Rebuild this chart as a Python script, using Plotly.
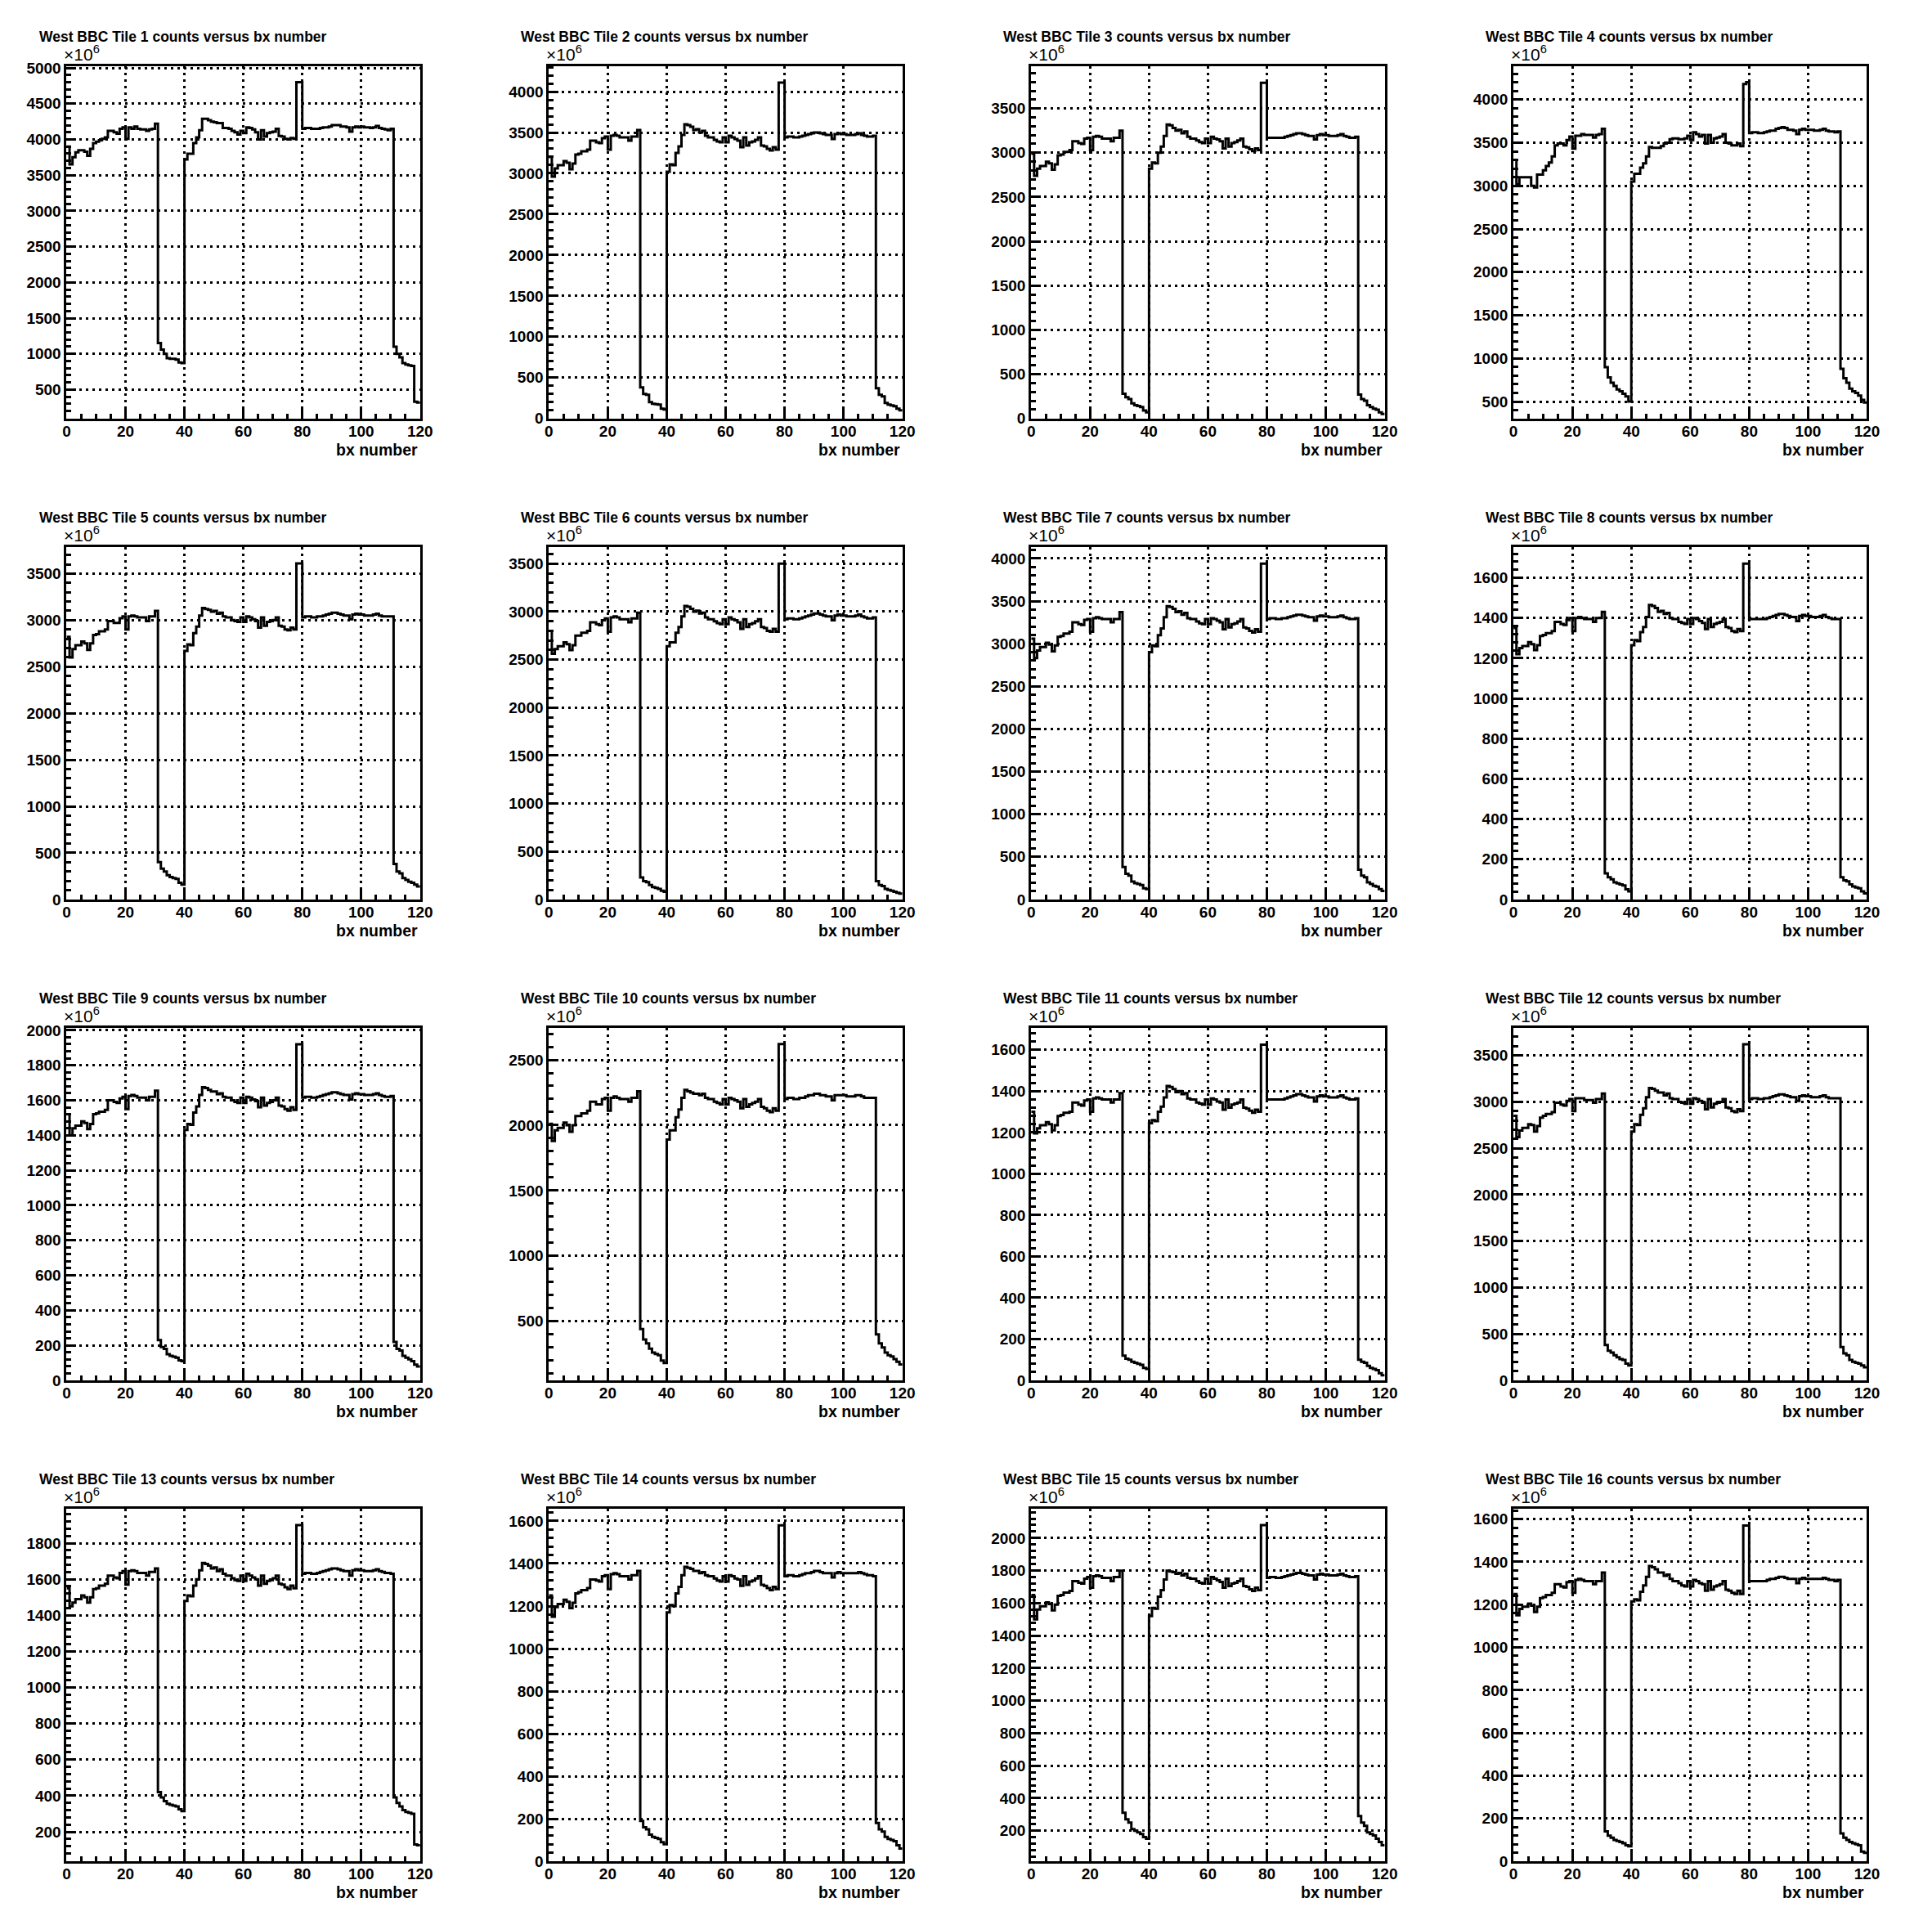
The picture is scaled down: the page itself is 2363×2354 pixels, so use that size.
import plotly.graph_objects as go

# ---------------- data (counts in units of 10^6, one value per bx bin) ----------------
BX_EDGES = list(range(121))          # bin edges 0..120 (120 bins of width 1)
X_TICKS = [0, 20, 40, 60, 80, 100, 120]

TILE_1 = ([3900, 3650, 3750, 3820, 3850, 3850, 3830, 3770, 3870, 3950, 3970, 3990, 4010, 4030, 4120, 4120,
           4100, 4080, 4150, 4170, 4010, 4170, 4150, 4180, 4150, 4140, 4140, 4120, 4140, 4150, 4220]
          + [1150, 1060, 1000, 940, 930, 930, 920, 880, 870]
          + [3720, 3800, 3800, 3950, 4030, 4130, 4290, 4290, 4270, 4250, 4240, 4230, 4230, 4160, 4160, 4150,
             4120, 4100, 4070, 4120, 4090, 4170, 4160, 4140, 4100, 4000, 4130, 4040, 4090, 4100, 4110, 4150,
             4050, 4040, 4010, 4000, 4020, 4010, 4800, 4800]
          + [4150, 4160, 4160, 4150, 4150, 4150, 4160, 4170, 4170, 4180, 4200, 4200, 4200, 4180, 4180, 4170,
             4110, 4170, 4180, 4170, 4180, 4170, 4170, 4160, 4170, 4190, 4160, 4150, 4140, 4130, 4150]
          + [1100, 1000, 950, 870, 850, 840, 830, 330, 320])

TILE_2 = ([3200, 2960, 3060, 3100, 3100, 3150, 3130, 3050, 3120, 3230, 3240, 3270, 3270, 3290, 3400, 3400,
           3380, 3370, 3430, 3450, 3290, 3460, 3470, 3460, 3440, 3440, 3440, 3400, 3450, 3450, 3530]
          + [380, 300, 290, 200, 180, 175, 170, 120, 110]
          + [3020, 3110, 3100, 3250, 3330, 3470, 3600, 3590, 3570, 3530, 3540, 3500, 3520, 3460, 3440, 3440,
             3410, 3390, 3380, 3440, 3380, 3460, 3440, 3420, 3400, 3320, 3440, 3340, 3380, 3390, 3410, 3440,
             3340, 3330, 3300, 3280, 3320, 3290, 4110, 4110]
          + [3440, 3450, 3450, 3440, 3440, 3450, 3460, 3470, 3480, 3490, 3500, 3500, 3490, 3480, 3470, 3470,
             3420, 3480, 3490, 3480, 3480, 3470, 3470, 3470, 3480, 3490, 3470, 3460, 3450, 3450, 3460]
          + [370, 290, 270, 190, 170, 160, 150, 120, 100])

TILE_3 = ([2990, 2740, 2820, 2850, 2850, 2900, 2880, 2810, 2870, 2970, 2980, 3010, 3010, 3030, 3130, 3130,
           3110, 3100, 3160, 3170, 3030, 3180, 3190, 3180, 3160, 3160, 3160, 3130, 3170, 3170, 3250]
          + [280, 240, 220, 170, 150, 140, 130, 90, 70]
          + [2820, 2890, 2880, 3000, 3070, 3190, 3320, 3310, 3280, 3250, 3260, 3220, 3240, 3180, 3160, 3160,
             3140, 3120, 3110, 3160, 3110, 3180, 3160, 3150, 3130, 3050, 3160, 3070, 3110, 3120, 3140, 3160,
             3070, 3060, 3040, 3020, 3050, 3030, 3790, 3790]
          + [3170, 3170, 3170, 3170, 3170, 3170, 3180, 3190, 3200, 3210, 3220, 3220, 3210, 3200, 3190, 3190,
             3150, 3200, 3210, 3200, 3200, 3190, 3190, 3190, 3200, 3210, 3190, 3180, 3170, 3170, 3180]
          + [270, 220, 200, 150, 130, 110, 100, 70, 50])

TILE_4 = ([3300, 3020, 3100, 3100, 3100, 3100, 3000, 2980, 3130, 3130, 3180, 3230, 3270, 3340, 3470, 3490,
           3490, 3470, 3530, 3570, 3430, 3580, 3580, 3600, 3590, 3590, 3590, 3560, 3590, 3600, 3660]
          + [900, 780, 720, 680, 640, 620, 590, 560, 500]
          + [3050, 3140, 3140, 3210, 3260, 3340, 3450, 3440, 3440, 3440, 3460, 3490, 3500, 3540, 3550, 3550,
             3540, 3540, 3550, 3580, 3530, 3620, 3600, 3570, 3590, 3490, 3590, 3500, 3550, 3560, 3570, 3600,
             3500, 3490, 3470, 3470, 3490, 3460, 4180, 4200]
          + [3610, 3620, 3620, 3610, 3610, 3620, 3630, 3640, 3640, 3660, 3670, 3680, 3670, 3650, 3650, 3640,
             3600, 3650, 3660, 3650, 3650, 3650, 3640, 3640, 3650, 3660, 3640, 3630, 3630, 3620, 3630]
          + [880, 770, 720, 650, 620, 600, 570, 520, 490])

TILE_5 = ([2820, 2600, 2690, 2730, 2730, 2770, 2750, 2680, 2750, 2840, 2850, 2880, 2880, 2900, 2990, 2990,
           2970, 2970, 3020, 3040, 2900, 3040, 3050, 3040, 3030, 3030, 3030, 2990, 3040, 3040, 3100]
          + [400, 330, 300, 260, 240, 230, 220, 180, 160]
          + [2670, 2740, 2730, 2860, 2930, 3050, 3130, 3120, 3110, 3090, 3100, 3070, 3080, 3040, 3030, 3030,
             3000, 2990, 2980, 3030, 2980, 3040, 3030, 3010, 2990, 2920, 3030, 2940, 2980, 2990, 3000, 3030,
             2940, 2930, 2900, 2890, 2920, 2900, 3610, 3610]
          + [3030, 3040, 3040, 3030, 3030, 3040, 3040, 3050, 3060, 3070, 3080, 3080, 3070, 3060, 3050, 3050,
             3010, 3060, 3070, 3060, 3060, 3050, 3050, 3050, 3060, 3070, 3050, 3040, 3040, 3040, 3040]
          + [380, 300, 280, 230, 210, 190, 180, 160, 140])

TILE_6 = ([2800, 2560, 2610, 2640, 2640, 2680, 2660, 2600, 2650, 2750, 2750, 2780, 2780, 2800, 2890, 2890,
           2870, 2860, 2910, 2930, 2790, 2940, 2950, 2940, 2920, 2920, 2920, 2890, 2930, 2930, 2990]
          + [230, 190, 180, 150, 130, 120, 110, 90, 80]
          + [2640, 2680, 2680, 2780, 2840, 2950, 3060, 3050, 3030, 3000, 3010, 2980, 2990, 2940, 2920, 2920,
             2900, 2880, 2870, 2920, 2870, 2940, 2920, 2910, 2890, 2820, 2920, 2840, 2870, 2880, 2900, 2920,
             2840, 2830, 2800, 2790, 2820, 2790, 3500, 3500]
          + [2920, 2930, 2930, 2920, 2920, 2930, 2940, 2950, 2960, 2970, 2980, 2980, 2970, 2960, 2950, 2950,
             2910, 2960, 2970, 2960, 2960, 2950, 2950, 2950, 2960, 2970, 2950, 2940, 2930, 2930, 2940]
          + [190, 150, 140, 110, 100, 90, 80, 70, 60])

TILE_7 = ([3060, 2830, 2920, 2960, 2960, 3010, 2990, 2910, 2980, 3080, 3090, 3120, 3120, 3140, 3250, 3250,
           3230, 3220, 3280, 3290, 3140, 3300, 3310, 3300, 3290, 3290, 3290, 3250, 3290, 3290, 3370]
          + [380, 300, 280, 210, 190, 180, 170, 130, 120]
          + [2900, 2980, 2970, 3100, 3180, 3310, 3440, 3430, 3410, 3370, 3380, 3340, 3360, 3300, 3290, 3290,
             3260, 3240, 3230, 3290, 3230, 3300, 3290, 3270, 3250, 3170, 3290, 3190, 3230, 3240, 3260, 3290,
             3190, 3180, 3150, 3130, 3170, 3140, 3940, 3940]
          + [3290, 3300, 3300, 3290, 3290, 3300, 3300, 3310, 3320, 3330, 3340, 3340, 3330, 3320, 3310, 3310,
             3270, 3320, 3330, 3320, 3320, 3310, 3310, 3310, 3320, 3330, 3310, 3300, 3290, 3290, 3300]
          + [350, 280, 260, 200, 180, 160, 150, 120, 100])

TILE_8 = ([1350, 1220, 1250, 1260, 1260, 1280, 1270, 1240, 1265, 1310, 1315, 1325, 1325, 1335, 1380, 1380,
           1370, 1365, 1390, 1400, 1335, 1400, 1405, 1400, 1395, 1395, 1395, 1380, 1400, 1400, 1430]
          + [130, 110, 100, 85, 80, 75, 70, 50, 40]
          + [1265, 1290, 1285, 1330, 1355, 1405, 1465, 1460, 1450, 1430, 1435, 1420, 1425, 1400, 1395, 1395,
             1380, 1375, 1370, 1395, 1370, 1400, 1395, 1385, 1375, 1345, 1395, 1355, 1370, 1375, 1380, 1395,
             1355, 1350, 1335, 1330, 1345, 1335, 1670, 1670]
          + [1395, 1395, 1395, 1395, 1395, 1395, 1400, 1405, 1410, 1415, 1420, 1420, 1415, 1410, 1405, 1405,
             1385, 1410, 1415, 1410, 1410, 1405, 1405, 1405, 1410, 1415, 1405, 1400, 1395, 1395, 1395]
          + [110, 95, 90, 75, 65, 60, 55, 40, 30])

TILE_9 = ([1520, 1400, 1440, 1455, 1455, 1480, 1470, 1435, 1465, 1520, 1525, 1535, 1535, 1545, 1600, 1600,
           1590, 1585, 1610, 1620, 1550, 1625, 1630, 1625, 1615, 1615, 1615, 1600, 1620, 1620, 1655]
          + [230, 190, 180, 150, 140, 135, 130, 115, 110]
          + [1430, 1465, 1460, 1530, 1565, 1630, 1675, 1670, 1660, 1650, 1650, 1635, 1640, 1620, 1615, 1615,
             1600, 1590, 1585, 1615, 1585, 1620, 1615, 1605, 1595, 1560, 1615, 1570, 1585, 1590, 1600, 1615,
             1570, 1565, 1550, 1540, 1560, 1545, 1920, 1920]
          + [1615, 1620, 1620, 1615, 1615, 1620, 1625, 1630, 1635, 1640, 1645, 1645, 1640, 1635, 1630, 1630,
             1605, 1635, 1640, 1635, 1635, 1630, 1630, 1630, 1635, 1640, 1630, 1625, 1620, 1620, 1625]
          + [220, 180, 170, 140, 130, 120, 110, 90, 80])

TILE_10 = ([2010, 1880, 1960, 1980, 1980, 2020, 2000, 1950, 2000, 2070, 2070, 2090, 2090, 2110, 2180, 2180,
            2160, 2160, 2200, 2210, 2110, 2210, 2220, 2210, 2200, 2200, 2200, 2180, 2210, 2210, 2260]
           + [440, 360, 330, 290, 260, 250, 240, 200, 180]
           + [1890, 1960, 1960, 2060, 2120, 2210, 2270, 2260, 2250, 2240, 2240, 2230, 2240, 2210, 2200, 2200,
              2180, 2170, 2160, 2200, 2160, 2210, 2200, 2190, 2180, 2130, 2200, 2140, 2160, 2170, 2180, 2200,
              2140, 2130, 2110, 2100, 2130, 2110, 2620, 2620]
           + [2200, 2210, 2210, 2200, 2200, 2210, 2210, 2220, 2230, 2230, 2240, 2240, 2230, 2230, 2220, 2220,
              2190, 2230, 2230, 2230, 2230, 2220, 2220, 2220, 2230, 2230, 2220, 2210, 2210, 2210, 2210]
           + [400, 330, 300, 260, 240, 230, 210, 190, 170])

TILE_11 = ([1300, 1195, 1220, 1235, 1235, 1250, 1240, 1210, 1235, 1280, 1285, 1295, 1295, 1300, 1345, 1345,
            1335, 1330, 1355, 1360, 1300, 1365, 1370, 1365, 1360, 1360, 1360, 1345, 1360, 1360, 1390]
           + [120, 105, 100, 90, 85, 80, 75, 60, 55]
           + [1245, 1260, 1255, 1300, 1325, 1370, 1425, 1420, 1410, 1395, 1400, 1385, 1390, 1365, 1360, 1360,
              1345, 1340, 1335, 1360, 1335, 1365, 1360, 1350, 1345, 1310, 1360, 1320, 1335, 1340, 1345, 1360,
              1320, 1315, 1305, 1295, 1310, 1300, 1625, 1625]
           + [1360, 1360, 1360, 1360, 1360, 1360, 1365, 1370, 1375, 1380, 1385, 1385, 1380, 1375, 1370, 1370,
              1350, 1375, 1380, 1375, 1375, 1370, 1370, 1370, 1375, 1380, 1370, 1365, 1360, 1360, 1365]
           + [100, 90, 85, 70, 60, 55, 50, 35, 25])

TILE_12 = ([2850, 2620, 2690, 2720, 2720, 2760, 2750, 2680, 2740, 2830, 2850, 2870, 2870, 2890, 2990, 2990,
            2970, 2960, 3010, 3030, 2900, 3040, 3040, 3040, 3020, 3020, 3020, 2990, 3030, 3030, 3090]
           + [380, 320, 300, 270, 250, 230, 220, 180, 160]
           + [2680, 2760, 2750, 2860, 2930, 3050, 3150, 3140, 3120, 3100, 3100, 3070, 3090, 3040, 3030, 3030,
              3000, 2990, 2980, 3030, 2980, 3040, 3030, 3010, 2990, 2920, 3030, 2940, 2980, 2990, 3000, 3030,
              2940, 2930, 2900, 2890, 2920, 2900, 3620, 3620]
           + [3030, 3040, 3040, 3030, 3030, 3040, 3040, 3050, 3060, 3070, 3080, 3080, 3070, 3060, 3050, 3050,
              3010, 3060, 3070, 3060, 3060, 3050, 3050, 3050, 3060, 3070, 3050, 3040, 3040, 3040, 3040]
           + [360, 290, 270, 220, 200, 190, 180, 160, 140])

TILE_13 = ([1550, 1450, 1470, 1490, 1490, 1510, 1500, 1470, 1500, 1545, 1550, 1565, 1565, 1575, 1620, 1620,
            1610, 1605, 1635, 1645, 1570, 1645, 1650, 1645, 1635, 1635, 1635, 1620, 1640, 1640, 1660]
           + [420, 390, 370, 355, 350, 345, 340, 325, 315]
           + [1480, 1510, 1505, 1565, 1600, 1650, 1690, 1685, 1675, 1660, 1665, 1645, 1655, 1630, 1620, 1620,
              1605, 1595, 1590, 1620, 1590, 1630, 1620, 1610, 1600, 1565, 1620, 1575, 1590, 1595, 1605, 1620,
              1575, 1570, 1555, 1545, 1565, 1550, 1900, 1900]
           + [1630, 1635, 1635, 1630, 1630, 1635, 1640, 1645, 1650, 1655, 1660, 1660, 1655, 1650, 1645, 1645,
              1620, 1650, 1655, 1650, 1650, 1645, 1645, 1645, 1650, 1655, 1645, 1640, 1635, 1635, 1630]
           + [390, 360, 340, 320, 310, 305, 300, 130, 125])

TILE_14 = ([1250, 1150, 1195, 1210, 1210, 1230, 1220, 1190, 1215, 1260, 1265, 1275, 1275, 1285, 1325, 1325,
            1320, 1315, 1340, 1345, 1280, 1350, 1355, 1350, 1340, 1340, 1340, 1325, 1345, 1345, 1365]
           + [190, 160, 150, 125, 115, 110, 105, 90, 80]
           + [1170, 1205, 1200, 1260, 1290, 1345, 1385, 1380, 1375, 1365, 1365, 1355, 1360, 1345, 1340, 1340,
              1330, 1320, 1315, 1340, 1315, 1345, 1340, 1330, 1325, 1295, 1340, 1300, 1315, 1320, 1330, 1340,
              1300, 1295, 1285, 1275, 1290, 1280, 1580, 1580]
           + [1340, 1345, 1345, 1340, 1340, 1345, 1350, 1355, 1355, 1360, 1365, 1365, 1360, 1355, 1355, 1355,
              1335, 1355, 1360, 1355, 1355, 1355, 1355, 1355, 1355, 1360, 1355, 1350, 1345, 1345, 1340]
           + [180, 150, 140, 115, 105, 100, 95, 75, 60])

TILE_15 = ([1650, 1500, 1560, 1580, 1580, 1605, 1595, 1555, 1590, 1645, 1650, 1665, 1665, 1675, 1735, 1735,
            1725, 1720, 1750, 1760, 1695, 1765, 1770, 1765, 1755, 1755, 1755, 1735, 1760, 1760, 1800]
           + [310, 270, 250, 210, 200, 190, 180, 160, 150]
           + [1520, 1570, 1565, 1640, 1680, 1745, 1800, 1795, 1790, 1780, 1785, 1770, 1780, 1755, 1750, 1750,
              1735, 1725, 1720, 1750, 1720, 1760, 1750, 1740, 1730, 1695, 1750, 1705, 1720, 1725, 1735, 1750,
              1705, 1700, 1685, 1675, 1695, 1680, 2080, 2080]
           + [1755, 1760, 1760, 1755, 1755, 1760, 1765, 1770, 1775, 1780, 1785, 1785, 1780, 1775, 1770, 1770,
              1745, 1775, 1780, 1775, 1775, 1770, 1770, 1770, 1775, 1780, 1770, 1765, 1760, 1760, 1765]
           + [290, 250, 230, 190, 180, 170, 150, 130, 110])

TILE_16 = ([1250, 1150, 1180, 1190, 1190, 1205, 1195, 1165, 1190, 1230, 1235, 1245, 1245, 1255, 1295, 1295,
            1285, 1280, 1305, 1310, 1255, 1315, 1320, 1315, 1310, 1310, 1310, 1295, 1310, 1310, 1350]
           + [140, 120, 110, 100, 95, 90, 85, 75, 70]
           + [1215, 1225, 1220, 1260, 1290, 1330, 1380, 1375, 1365, 1350, 1350, 1335, 1340, 1320, 1310, 1310,
              1300, 1290, 1285, 1310, 1285, 1315, 1310, 1300, 1295, 1265, 1310, 1270, 1285, 1290, 1295, 1310,
              1270, 1265, 1255, 1250, 1265, 1250, 1570, 1570]
           + [1310, 1310, 1310, 1310, 1310, 1310, 1315, 1320, 1320, 1325, 1330, 1330, 1325, 1320, 1320, 1320,
              1300, 1320, 1325, 1320, 1320, 1320, 1320, 1320, 1320, 1325, 1320, 1315, 1315, 1310, 1315]
           + [130, 110, 100, 90, 85, 80, 75, 45, 40])

TILES = [TILE_1, TILE_2, TILE_3, TILE_4, TILE_5, TILE_6, TILE_7, TILE_8,
         TILE_9, TILE_10, TILE_11, TILE_12, TILE_13, TILE_14, TILE_15, TILE_16]
TITLES = ["West BBC Tile %d counts versus bx number" % (i + 1) for i in range(16)]
X_TITLE = "bx number"
Y_EXPONENT = "\u00d710<sup>6</sup>"

for _i, _t in enumerate(TILES):
    assert len(_t) == 120, (_i + 1, len(_t))

# ---------------- layout (pixel geometry of the 2363x2354 page, 4x4 pads) ----------------
PAGE_W, PAGE_H = 2363, 2354
BODY = 8                                  # default page body margin around the figure
W, H = PAGE_W - 2 * BODY, PAGE_H - 2 * BODY
PAD_W, PAD_H = PAGE_W / 4.0, PAGE_H / 4.0
FR_L, FR_R, FR_T, FR_B = 80, 513, 78, 509     # frame inside each pad, px
FONT = "Liberation Sans, Arial, Helvetica, sans-serif"
TOP_MARGIN = 0.05
# measured capture correction (the photographed page comes out ~0.8 % smaller, shifted)
CAP_SX, CAP_AX = 0.9925, 3.5
CAP_SY, CAP_AY = 0.9925, 5.0

def px(x):
    x = (x - CAP_AX) / CAP_SX
    return (x - BODY) / W

def py(y):
    y = (y - CAP_AY) / CAP_SY
    return 1 - (y - BODY) / H

fig = go.Figure()
annotations = []
layout_axes = {}

for k, vals in enumerate(TILES):
    r, c = divmod(k, 4)
    ox, oy = c * PAD_W, r * PAD_H
    sfx = "" if k == 0 else str(k + 1)
    fig.add_trace(go.Scatter(
        x=BX_EDGES, y=vals + [vals[-1]], mode="lines",
        line=dict(shape="hv", color="black", width=3),
        xaxis="x" + sfx, yaxis="y" + sfx, showlegend=False, hoverinfo="skip"))

    vmin, vmax = min(vals), max(vals)
    span = vmax - vmin
    ymax = vmax + TOP_MARGIN * span
    ymin = vmin - TOP_MARGIN * span
    if ymin < 0:
        ymin = 0
    dtick = 200 if ymax < 2300 else 500

    common = dict(
        ticks="inside", ticklen=12, tickwidth=2.5, tickcolor="black",
        showline=True, linewidth=3, linecolor="black", mirror=True,
        showgrid=True, gridcolor="black", gridwidth=3, griddash="3px,5px",
        zeroline=False,
        tickfont=dict(family=FONT, size=19, color="black", weight="bold"),
    )
    layout_axes["xaxis" + sfx] = dict(
        domain=[px(ox + FR_L), px(ox + FR_R)], range=[0, 120],
        anchor="y" + sfx, tickmode="array", tickvals=X_TICKS,
        ticklabelstandoff=-4,
        minor=dict(dtick=5, tick0=0, ticklen=6, tickwidth=2.5, tickcolor="black",
                   ticks="inside", showgrid=False),
        **common)
    layout_axes["yaxis" + sfx] = dict(
        domain=[py(oy + FR_B), py(oy + FR_T)], range=[ymin, ymax],
        anchor="x" + sfx, tick0=0, dtick=dtick,
        minor=dict(dtick=dtick / 5, tick0=0, ticklen=6, tickwidth=2.5, tickcolor="black",
                   ticks="inside", showgrid=False),
        **common)

    annotations.append(dict(
        text=TITLES[k], xref="paper", yref="paper", x=px(ox + 44), y=py(oy + 42),
        xanchor="left", yanchor="middle", showarrow=False,
        font=dict(family=FONT, size=17.5, color="black", weight="bold")))
    annotations.append(dict(
        text=Y_EXPONENT, xref="paper", yref="paper", x=px(ox + 75), y=py(oy + 77),
        xanchor="left", yanchor="bottom", showarrow=False,
        font=dict(family=FONT, size=21, color="black")))
    annotations.append(dict(
        text=X_TITLE, xref="paper", yref="paper", x=px(ox + 512), y=py(oy + 547),
        xanchor="right", yanchor="middle", showarrow=False,
        font=dict(family=FONT, size=19.5, color="black", weight="bold")))

fig.update_layout(
    width=W, height=H, margin=dict(l=0, r=0, t=0, b=0),
    paper_bgcolor="white", plot_bgcolor="white",
    annotations=annotations, **layout_axes)

fig.write_html("out.html", config={"displayModeBar": False})
